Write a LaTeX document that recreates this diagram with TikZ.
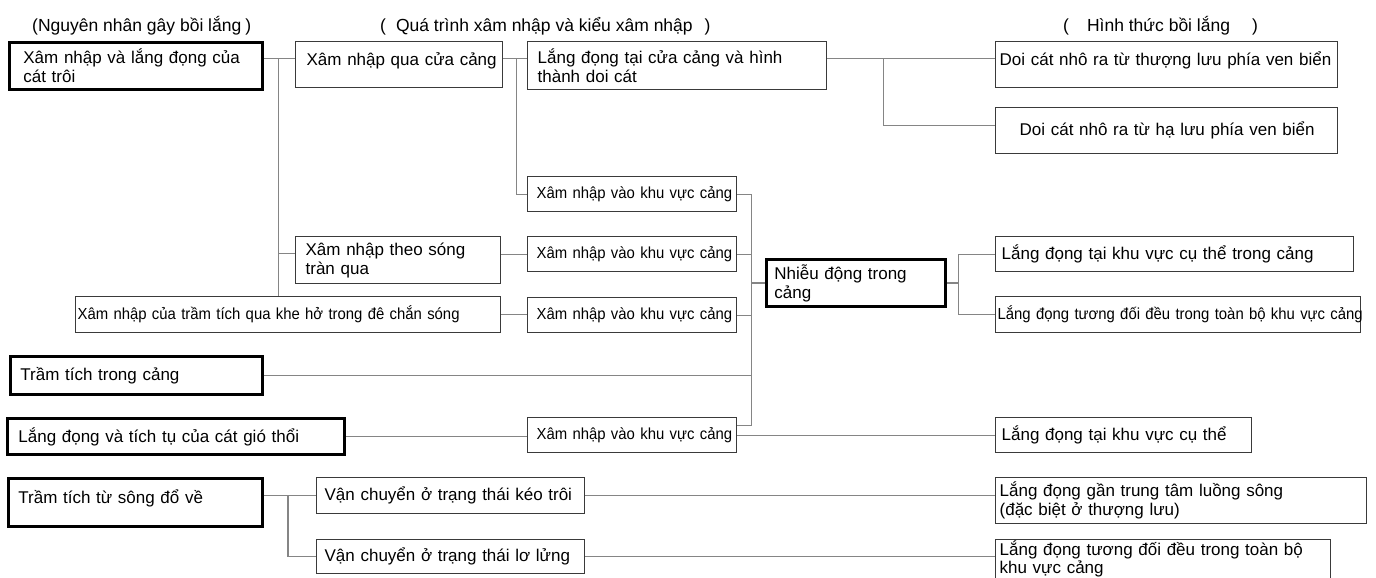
\documentclass[tikz,border=0pt]{standalone}
\usepackage{fontspec}
\setmainfont{Liberation Sans}
\newfontfamily\narrowfont[FakeStretch=0.93]{Liberation Sans}
\usetikzlibrary{calc}
\definecolor{boxgray}{HTML}{3A3A3A}
\definecolor{linkgray}{HTML}{858585}
\newcommand{\bigtxt}{\fontsize{17}{19}\selectfont}
\newcommand{\headtxt}{\fontsize{17.5}{20}\selectfont}
\newcommand{\smalltxt}{\narrowfont\fontsize{16}{18}\selectfont}

\tikzset{
  bx/.style n args={3}{draw=boxgray, line width=1.3pt, anchor=north west,
    minimum width=#1pt, minimum height=#2pt, inner xsep=#3pt, inner ysep=1pt,
    text width=#1pt-2*#3pt, align=left, font=\bigtxt,
    execute at begin node={\rightskip=-20pt plus 1fil}},
  bxthick/.style n args={3}{bx={#1}{#2}{#3}, draw=black, line width=2.8pt},
  smalltext/.style={font=\smalltxt},
  link/.style={draw=linkgray, line width=1.3pt},
  headline/.style={anchor=west, font=\headtxt, inner sep=0pt},
}

\begin{document}
\begin{tikzpicture}[x=1pt, y=-1pt]
  \useasboundingbox (0,0) rectangle (1376,578);

  % Column headings
  \node[headline] (hCause) at (32,26) {(Nguyên nhân gây bồi lắng\hspace{4pt})};
  \node[headline] (hProc) at (380,26) {(\hspace{10pt}Quá trình xâm nhập và kiểu xâm nhập\hspace{12pt})};
  \node[headline] (hForm) at (1063,26) {(\hspace{18pt}Hình thức bồi lắng\hspace{22pt})};

  % Causes
  \node[bxthick={253}{47}{14}] (cDrift) at (8,41) {Xâm nhập và lắng đọng của\\cát trôi};
  \node[bxthick={252}{38}{10}] (cInner) at (9,355) {Trầm tích trong cảng};
  \node[bxthick={337}{36}{11}] (cWind) at (6,417) {Lắng đọng và tích tụ của cát gió thổi};
  \node[bxthick={254}{48}{10}, text depth=12pt] (cRiver) at (7,477) {Trầm tích từ sông đổ về};

  % Intrusion processes
  \node[bx={207}{46}{11}, text depth=12pt] (pMouth) at (295,41) {Xâm nhập qua cửa cảng};
  \node[bx={205}{47}{10}] (pOver) at (295,236) {Xâm nhập theo sóng\\tràn qua};
  \node[bx={425}{36}{2}, smalltext] (pGap) at (75,296) {Xâm nhập của trầm tích qua khe hở trong đê chắn sóng};
  \node[bx={299}{48}{10}] (pBar) at (527,41) {Lắng đọng tại cửa cảng và hình\\thành doi cát};
  \node[bx={209}{35}{9}, smalltext] (eMouth) at (527,176) {Xâm nhập vào khu vực cảng};
  \node[bx={209}{35}{9}, smalltext] (eOver) at (527,236) {Xâm nhập vào khu vực cảng};
  \node[bx={209}{35}{9}, smalltext] (eGap) at (527,297) {Xâm nhập vào khu vực cảng};
  \node[bx={209}{35}{9}, smalltext] (eWind) at (527,417) {Xâm nhập vào khu vực cảng};
  \node[bxthick={179}{47}{8}] (pAgit) at (765,258) {Nhiễu động trong\\cảng};
  \node[bx={268}{36}{8}] (pBed) at (316,477) {Vận chuyển ở trạng thái kéo trôi};
  \node[bx={268}{34}{8}] (pSusp) at (316,539) {Vận chuyển ở trạng thái lơ lửng};

  % Forms of siltation
  \node[bx={342}{46}{4}, text depth=12pt] (fUp) at (995,41) {Doi cát nhô ra từ thượng lưu phía ven biển};
  \node[bx={342}{46}{24}] (fDown) at (995,107) {Doi cát nhô ra từ hạ lưu phía ven biển};
  \node[bx={358}{35}{6}] (fLocal) at (995,236) {Lắng đọng tại khu vực cụ thể trong cảng};
  \node[bx={365}{36}{2}, smalltext] (fEven) at (995,296) {Lắng đọng tương đối đều trong toàn bộ khu vực cảng};
  \node[bx={256}{35}{6}] (fSpot) at (995,417) {Lắng đọng tại khu vực cụ thể};
  \node[bx={371}{46}{4}] (fCentre) at (995,477) {Lắng đọng gần trung tâm luồng sông\\(đặc biệt ở thượng lưu)};
  \node[bx={335}{39}{4}, inner ysep=0pt, font=\fontsize{17}{18}\selectfont] (fWide) at (995,539) {Lắng đọng tương đối đều trong toàn bộ\\khu vực cảng};

  % Drifting sand branch
  \coordinate (jDrift) at ($([yshift=7.5pt]cDrift.east)+(15,0)$);
  \draw[link] ([yshift=7.5pt]cDrift.east) -- (jDrift -| pMouth.west);
  \draw[link] (jDrift) |- ([yshift=6.5pt]pOver.west);
  \draw[link] (jDrift) -- (jDrift |- pGap.north);

  % Harbour mouth branch
  \coordinate (jMouth) at ($(pMouth.east |- jDrift)+(13,0)$);
  \draw[link] (jDrift -| pMouth.east) -- (jDrift -| pBar.west);
  \draw[link] (jMouth) |- (eMouth.west);

  % Sand bar branch
  \coordinate (jBar) at ($(pBar.east |- jDrift)+(56,0)$);
  \draw[link] (jDrift -| pBar.east) -- (jDrift -| fUp.west);
  \draw[link] (jBar) |- ([yshift=5pt]fDown.west);

  % Overtopping and breakwater gaps
  \draw[link] (eOver.west -| pOver.east) -- (eOver.west);
  \draw[link] (pGap.east) -- (pGap.east -| eGap.west);

  % Collector into the harbour
  \coordinate (jPort) at ($(eMouth.east)+(14,0)$);
  \draw[link] (eMouth.east) -- (jPort) |- ([yshift=9.5pt]eWind.east);
  \draw[link] (eOver.east) -- (eOver.east -| jPort);
  \draw[link] (eGap.east) -- (eGap.east -| jPort);
  \draw[link] (cInner.east) -- (cInner.east -| jPort);
  \draw[link] (pAgit.west -| jPort) -- (pAgit.west);

  % Agitation branch
  \coordinate (jAgit) at ($(pAgit.east)+(12,0)$);
  \draw[link] (pAgit.east) -- (jAgit);
  \draw[link] (fLocal.west) -| (jAgit) |- (fEven.west);

  % Wind-blown sand
  \draw[link] (cWind.east) -- (cWind.east -| eWind.west);
  \draw[link] (eWind.east) -- (fSpot.west);

  % River sediment
  \coordinate (jRiver) at ($(pBed.west)+(-28,0)$);
  \draw[link] (pBed.west -| cRiver.east) -- (pBed.west);
  \draw[link] (jRiver) |- (pSusp.west);
  \draw[link] (pBed.east) -- (pBed.east -| fCentre.west);
  \draw[link] (pSusp.east) -- (pSusp.east -| fWide.west);
\end{tikzpicture}
\end{document}
